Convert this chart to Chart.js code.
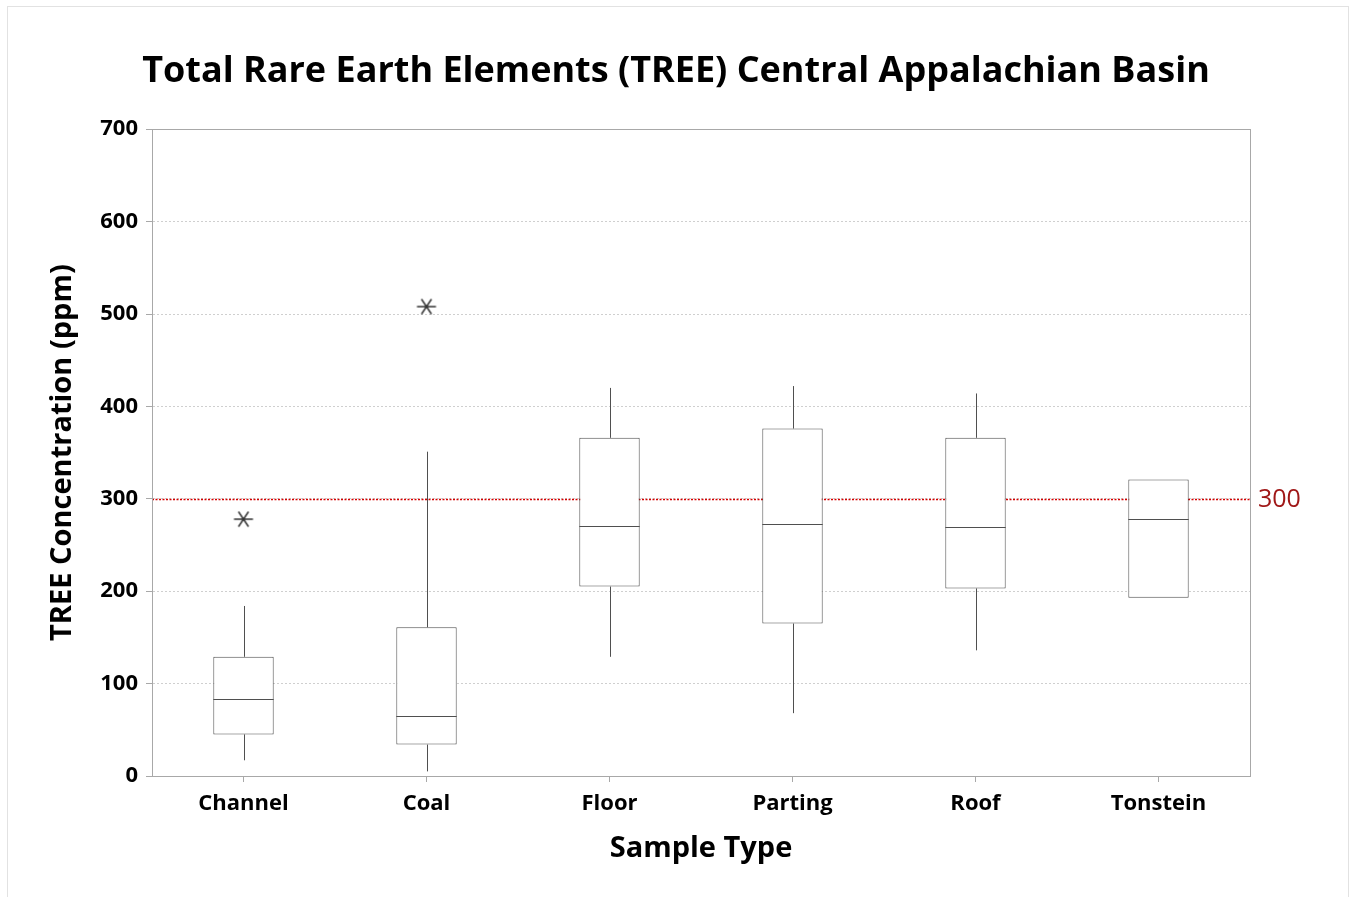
<!DOCTYPE html>
<html>
<head>
<meta charset="utf-8">
<script src="https://cdn.jsdelivr.net/npm/chart.js@4"></script>
<style>
  body { margin: 0; background: #fff; }
  #frame { position: absolute; left: 7px; top: 6px; width: 1340px; height: 900px; border: 1px solid #e2e2e2; }
  #wrap { position: absolute; left: 0; top: 0; width: 1349px; height: 897px; }
</style>
</head>
<body>
<div id="frame"></div>
<div id="wrap"><canvas id="chart"></canvas></div>
<script>
const categories = ['Channel', 'Coal', 'Floor', 'Parting', 'Roof', 'Tonstein'];
const q1 = [45, 34, 205, 165, 203, 193];
const q3 = [129, 161, 366, 376, 366, 321];
const medians = [83, 65, 271, 273, 269, 278];
const whiskerLow = [17, 5, 129, 68, 136, null];
const whiskerHigh = [184, 351, 420, 422, 414, null];
const outliers = [278, 508, null, null, null, null];
const refValue = 300;

const FONT = '"Open Sans", "Noto Sans", sans-serif';
const BOX_COLOR = '#4f4f4f';

// asterisk marker used for outliers
function makeAsterisk() {
    const c = document.createElement('canvas');
    c.width = 22;
    c.height = 22;
    const g = c.getContext('2d');
    g.strokeStyle = '#333';
    g.lineWidth = 1.5;
    g.beginPath();
    g.moveTo(1.5, 11); g.lineTo(20.5, 11);
    g.moveTo(6, 3.5); g.lineTo(16, 18.5);
    g.moveTo(16, 3.5); g.lineTo(6, 18.5);
    g.stroke();
    return c;
}

const boxExtras = {
    id: 'boxExtras',
    beforeDatasetsDraw(chart) {
        const { ctx, chartArea, scales: { y } } = chart;
        const py = Math.round(y.getPixelForValue(refValue)) + 0.5;
        ctx.save();
        ctx.strokeStyle = '#d40000';
        ctx.lineWidth = 1.5;
        ctx.setLineDash([2, 1.5]);
        ctx.beginPath();
        ctx.moveTo(chartArea.left, py);
        ctx.lineTo(chartArea.right, py);
        ctx.stroke();
        ctx.restore();
    },
    afterDatasetsDraw(chart) {
        const { ctx, chartArea, scales: { x, y } } = chart;
        const bars = chart.getDatasetMeta(0).data;
        ctx.save();
        ctx.strokeStyle = BOX_COLOR;
        ctx.lineWidth = 1;
        categories.forEach((_, i) => {
            const cx = Math.round(x.getPixelForValue(i)) + 0.5;
            const half = bars[i].width / 2;
            if (whiskerHigh[i] != null) {
                ctx.beginPath();
                ctx.moveTo(cx, y.getPixelForValue(q3[i]));
                ctx.lineTo(cx, y.getPixelForValue(whiskerHigh[i]));
                ctx.stroke();
            }
            if (whiskerLow[i] != null) {
                ctx.beginPath();
                ctx.moveTo(cx, y.getPixelForValue(q1[i]));
                ctx.lineTo(cx, y.getPixelForValue(whiskerLow[i]));
                ctx.stroke();
            }
            const my = Math.round(y.getPixelForValue(medians[i])) + 0.5;
            ctx.beginPath();
            ctx.moveTo(bars[i].x - half, my);
            ctx.lineTo(bars[i].x + half, my);
            ctx.stroke();
        });
        // plot frame
        ctx.strokeStyle = '#a8a8a8';
        ctx.strokeRect(Math.round(chartArea.left) + 0.5, Math.round(chartArea.top) + 0.5,
            Math.round(chartArea.right - chartArea.left), Math.round(chartArea.bottom - chartArea.top));
        // reference label
        ctx.fillStyle = '#a01818';
        ctx.font = '25px ' + FONT;
        ctx.textBaseline = 'middle';
        ctx.fillText(String(refValue), chartArea.right + 8, y.getPixelForValue(refValue) + 1);
        ctx.restore();
    },
};

new Chart(document.getElementById('chart'), {
    type: 'bar',
    data: {
        labels: categories,
        datasets: [
            {
                type: 'bar',
                data: q1.map((v, i) => [v, q3[i]]),
                backgroundColor: '#fff',
                borderColor: BOX_COLOR,
                borderWidth: 1,
                borderSkipped: false,
                barPercentage: 1,
                categoryPercentage: 0.33,
                order: 2,
            },
            {
                type: 'line',
                data: outliers,
                showLine: false,
                pointStyle: makeAsterisk(),
                pointRadius: 11,
                order: 1,
            },
        ],
    },
    options: {
        responsive: true,
        maintainAspectRatio: false,
        animation: false,
        layout: { padding: { left: 3, right: 0, top: 0, bottom: 0 } },
        plugins: {
            legend: { display: false },
            tooltip: { enabled: false },
            title: {
                display: true,
                text: 'Total Rare Earth Elements (TREE) Central Appalachian Basin',
                color: '#000',
                font: { family: FONT, size: 36, weight: 'bold' },
                padding: { top: 50, bottom: 36 },
            },
        },
        scales: {
            x: {
                offset: true,
                grid: { offset: false, drawOnChartArea: false, drawTicks: true, tickLength: 6, tickColor: '#a8a8a8' },
                border: { color: '#a8a8a8' },
                ticks: { color: '#000', padding: 9, font: { family: FONT, size: 22, weight: 'bold' } },
                title: {
                    display: true,
                    text: 'Sample Type',
                    color: '#000',
                    font: { family: FONT, size: 29, weight: 'bold' },
                    padding: { top: 4, bottom: 31 },
                },
                afterFit(scale) { scale.height = 121; },
            },
            y: {
                min: 0,
                max: 700,
                ticks: { stepSize: 100, color: '#000', padding: 8, font: { family: FONT, size: 22, weight: 'bold' } },
                grid: {
                    color: c => (c.tick && (c.tick.value === 0 || c.tick.value === 700)) ? 'rgba(0,0,0,0)' : '#cfcfcf',
                    tickColor: '#a8a8a8',
                    tickLength: 6,
                    tickBorderDash: [],
                },
                border: { color: '#a8a8a8', dash: [2, 2] },
                title: {
                    display: true,
                    text: 'TREE Concentration (ppm)',
                    color: '#000',
                    font: { family: FONT, size: 29, weight: 'bold' },
                    padding: { top: 42, bottom: 4 },
                },
                afterFit(scale) { scale.width = 149; },
            },
            // empty right-hand gutter so the title centres on the whole image
            yGutter: {
                position: 'right',
                display: true,
                grid: { display: false },
                border: { display: false },
                ticks: { display: false },
                afterFit(scale) { scale.width = 99; },
            },
        },
    },
    plugins: [boxExtras],
});
</script>
</body>
</html>
